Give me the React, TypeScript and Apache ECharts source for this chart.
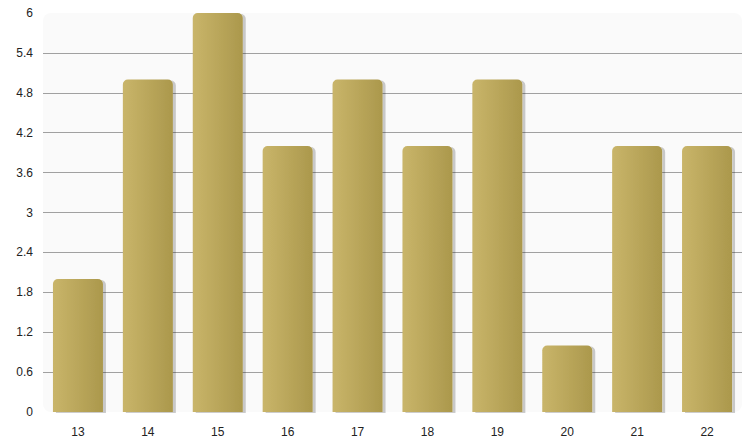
import React, { useEffect, useRef } from "react";
import * as echarts from "echarts";

const categories = ["13", "14", "15", "16", "17", "18", "19", "20", "21", "22"];
const values = [2, 5, 6, 4, 5, 4, 5, 1, 4, 4];

export default function App() {
  const ref = useRef<HTMLDivElement>(null);
  useEffect(() => {
    const chart = echarts.init(ref.current!, null, { renderer: "svg" });
    chart.setOption({
      animation: false,
      backgroundColor: "#ffffff",
      graphic: [
        {
          type: "rect",
          z: -10,
          silent: true,
          shape: { x: 43, y: 13, width: 699, height: 399, r: 8 },
          style: { fill: "#fafafa" },
        },
      ],
      grid: {
        left: 43,
        right: 12,
        top: 13,
        bottom: 36,
        show: false,
      },
      xAxis: {
        type: "category",
        data: categories,
        axisLine: { show: false },
        axisTick: { show: false },
        axisLabel: {
          color: "#222",
          fontFamily: "Liberation Sans, Arial, sans-serif",
          fontSize: 12,
          margin: 14,
        },
      },
      yAxis: {
        type: "value",
        min: 0,
        max: 6,
        interval: 0.6,
        axisLine: { show: false },
        axisTick: { show: false },
        axisLabel: {
          color: "#222",
          fontFamily: "Liberation Sans, Arial, sans-serif",
          fontSize: 12,
          margin: 10,
          formatter: (v: number) => String(Math.round(v * 10) / 10),
        },
        splitLine: {
          show: true,
          lineStyle: { color: "#a0a0a0", width: 1 },
          showMinLine: false,
          showMaxLine: false,
        },
      },
      series: [
        {
          type: "bar",
          data: values,
          barWidth: 50,
          itemStyle: {
            borderRadius: [5, 5, 0, 0],
            color: new echarts.graphic.LinearGradient(0, 0, 1, 0, [
              { offset: 0, color: "#c9b56a" },
              { offset: 1, color: "#ab984c" },
            ]),
            shadowColor: "rgba(0,0,0,0.2)",
            shadowOffsetX: 3,
            shadowOffsetY: 1,
            shadowBlur: 1,
          },
        },
      ],
    });
    return () => chart.dispose();
  }, []);
  return <div ref={ref} style={{ width: 754, height: 448, position: "absolute", left: 0, top: 0 }} />;
}
